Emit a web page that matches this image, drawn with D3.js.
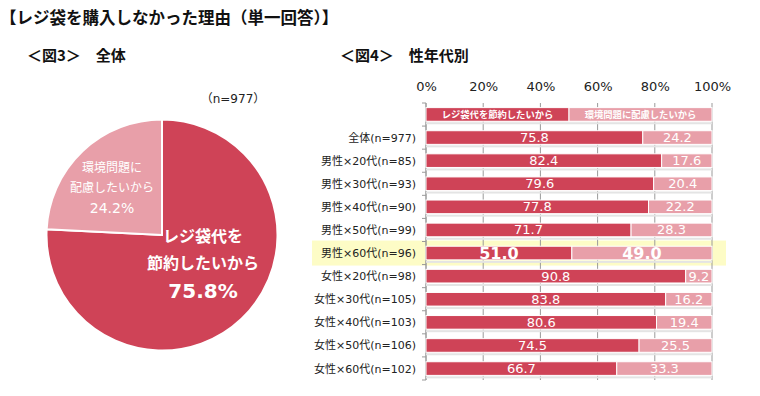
<!DOCTYPE html>
<html><head><meta charset="utf-8">
<script src="https://cdn.jsdelivr.net/npm/d3@7"></script>
<style>
body{margin:0;background:#fff;}
svg{display:block;font-family:"Noto Sans CJK JP","Noto Sans",sans-serif;}
</style></head>
<body>
<svg id="c" width="760" height="396"></svg>
<script>
// ---- data ----
const pieLabels = ["レジ袋代を節約したいから", "環境問題に配慮したいから"];
const pieValues = [75.8, 24.2];
const categories = ["全体(n=977)","男性×20代(n=85)","男性×30代(n=93)","男性×40代(n=90)","男性×50代(n=99)","男性×60代(n=96)","女性×20代(n=98)","女性×30代(n=105)","女性×40代(n=103)","女性×50代(n=106)","女性×60代(n=102)"];
const saveCost = [75.8,82.4,79.6,77.8,71.7,51.0,90.8,83.8,80.6,74.5,66.7];
const environment = [24.2,17.6,20.4,22.2,28.3,49.0,9.2,16.2,19.4,25.5,33.3];
const tickValues = [0,20,40,60,80,100];
const highlightCategory = "男性×60代(n=96)";

const DARK = "#cf4357", LIGHT = "#e89fa9";
const LATIN = "'DejaVu Sans','Noto Sans CJK JP',sans-serif";
const svg = d3.select("#c");

// titles
svg.append("text").attr("x",0).attr("y",24).attr("font-size",16.5).attr("font-weight","bold").attr("fill","#111")
  .text("【レジ袋を購入しなかった理由（単一回答）】");
svg.append("text").attr("x",27).attr("y",61).attr("font-size",15).attr("font-weight","bold").attr("fill","#111")
  .attr("xml:space","preserve").text("＜図3＞　全体");
svg.append("text").attr("x",340).attr("y",61).attr("font-size",15).attr("font-weight","bold").attr("fill","#111")
  .attr("xml:space","preserve").text("＜図4＞　性年代別");
svg.append("text").attr("x",233).attr("y",103).attr("font-size",12).attr("text-anchor","middle").attr("fill","#222")
  .attr("font-family",LATIN).text("（n=977）");

// ---- pie ----
const cx = 162, cy = 235, R = 115.5;
const pie = d3.pie().sort(null)(pieValues);
const arc = d3.arc().innerRadius(0).outerRadius(R);
const pg = svg.append("g").attr("transform",`translate(${cx},${cy})`);
pg.selectAll("path").data(pie).join("path")
  .attr("d",arc).attr("fill",(d,i)=>i===0?DARK:LIGHT)
  .attr("stroke","#fff").attr("stroke-width",2);

// dark label
const dl = pg.append("g").attr("fill","#fff").attr("font-weight","bold").attr("text-anchor","middle");
dl.append("text").attr("x",41).attr("y",7).attr("font-size",16).text("レジ袋代を");
dl.append("text").attr("x",41).attr("y",34).attr("font-size",16).text("節約したいから");
dl.append("text").attr("x",41).attr("y",63).attr("font-size",20).attr("font-family",LATIN).text(d3.format(".1f")(pieValues[0])+"%");
// light label
const ll = pg.append("g").attr("fill","#fff").attr("text-anchor","middle");
ll.append("text").attr("x",-50).attr("y",-63).attr("font-size",12).text("環境問題に");
ll.append("text").attr("x",-50).attr("y",-43).attr("font-size",12).text("配慮したいから");
ll.append("text").attr("x",-50).attr("y",-22).attr("font-size",14).attr("font-family",LATIN).text(d3.format(".1f")(pieValues[1])+"%");

// ---- bar chart ----
const x0 = 426, x1 = 712, yTop = 103, yBot = 380;
const rows = ["__legend__"].concat(categories);
const x = d3.scaleLinear().domain([0,100]).range([x0,x1]);
const y = d3.scaleBand().domain(rows).range([yTop,yBot]).paddingInner(0.41).paddingOuter(0.2);

// highlight
const hy = y(highlightCategory) + y.bandwidth()/2;
svg.append("rect").attr("x",312).attr("y",hy-12.5).attr("width",414).attr("height",25).attr("fill","#fdfcc6");

// gridlines
const g = svg.append("g");
g.selectAll("line.grid").data(tickValues).join("line").attr("class","grid")
  .attr("x1",d=>x(d)).attr("x2",d=>x(d)).attr("y1",yTop).attr("y2",yBot)
  .attr("stroke","#9a9a9a").attr("stroke-width",1);
// y axis line + ticks
const yAxisG = svg.append("g").attr("transform",`translate(${x0},0)`);
yAxisG.append("line").attr("x1",0).attr("x2",0).attr("y1",yTop).attr("y2",yBot).attr("stroke","#9a9a9a");
const bounds = d3.range(rows.length+1).map(i=>yTop + i*(yBot-yTop)/rows.length);
yAxisG.selectAll("line.t").data(bounds).join("line").attr("class","t")
  .attr("x1",-4).attr("x2",0).attr("y1",d=>d).attr("y2",d=>d).attr("stroke","#9a9a9a");
// faint row shadows
svg.append("g").selectAll("rect").data(rows).join("rect")
  .attr("x",x0).attr("width",x1-x0).attr("y",d=>y(d)+y.bandwidth()+1).attr("height",2)
  .attr("fill","#e4e4e4");

// top axis
const xAxis = d3.axisTop(x).tickValues(tickValues).tickFormat(d=>d+"%").tickSize(0).tickPadding(0);
const xa = svg.append("g").attr("transform",`translate(0,91)`).call(xAxis);
xa.select(".domain").remove();
xa.selectAll("text").attr("font-size",13).attr("fill","#222").attr("font-family",LATIN);

// legend row
const lg = svg.append("g");
const ly = y("__legend__");
lg.append("rect").attr("x",x(0)).attr("y",ly).attr("width",x(50)-x(0)).attr("height",y.bandwidth())
  .attr("fill",DARK).attr("stroke","#fff").attr("stroke-width",1);
lg.append("rect").attr("x",x(50)).attr("y",ly).attr("width",x(100)-x(50)).attr("height",y.bandwidth())
  .attr("fill",LIGHT).attr("stroke","#fff").attr("stroke-width",1);
lg.append("text").attr("x",x(25)).attr("y",ly+y.bandwidth()/2+3.5).attr("text-anchor","middle")
  .attr("font-size",9.3).attr("font-weight","bold").attr("fill","#fff").text(pieLabels[0]);
lg.append("text").attr("x",x(75)).attr("y",ly+y.bandwidth()/2+3.5).attr("text-anchor","middle")
  .attr("font-size",9.3).attr("font-weight","bold").attr("fill","#fff").text(pieLabels[1]);

// bars
const data = categories.map((c,i)=>({c, a:saveCost[i], b:environment[i]}));
const bg = svg.append("g");
bg.selectAll("rect.a").data(data).join("rect").attr("class","a")
  .attr("x",x(0)).attr("y",d=>y(d.c)).attr("width",d=>x(d.a)-x(0)).attr("height",y.bandwidth())
  .attr("fill",DARK).attr("stroke","#fff").attr("stroke-width",1);
bg.selectAll("rect.b").data(data).join("rect").attr("class","b")
  .attr("x",d=>x(d.a)).attr("y",d=>y(d.c)).attr("width",d=>x(d.a+d.b)-x(d.a)).attr("height",y.bandwidth())
  .attr("fill",LIGHT).attr("stroke","#fff").attr("stroke-width",1);
const hl = d=>d.c===highlightCategory;
bg.selectAll("text.a").data(data).join("text").attr("class","a")
  .attr("x",d=>x(d.a/2)).attr("y",d=>y(d.c)+y.bandwidth()/2+(hl(d)?6:4.5))
  .attr("text-anchor","middle").attr("fill","#fff")
  .attr("font-size",d=>hl(d)?16:13).attr("font-weight",d=>hl(d)?"bold":"normal")
  .attr("font-family",LATIN)
  .text(d=>d3.format(".1f")(d.a));
bg.selectAll("text.b").data(data).join("text").attr("class","b")
  .attr("x",d=>x(d.a+d.b/2)).attr("y",d=>y(d.c)+y.bandwidth()/2+(hl(d)?6:4.5))
  .attr("text-anchor","middle").attr("fill","#fff")
  .attr("font-size",d=>hl(d)?16:13).attr("font-weight",d=>hl(d)?"bold":"normal")
  .attr("font-family",LATIN)
  .text(d=>d3.format(".1f")(d.b));

// category labels
svg.append("g").selectAll("text").data(categories).join("text")
  .attr("x",416).attr("y",d=>y(d)+y.bandwidth()/2+4).attr("text-anchor","end")
  .attr("font-size",11).attr("fill","#222").attr("font-family",LATIN).text(d=>d);
</script>
</body></html>
